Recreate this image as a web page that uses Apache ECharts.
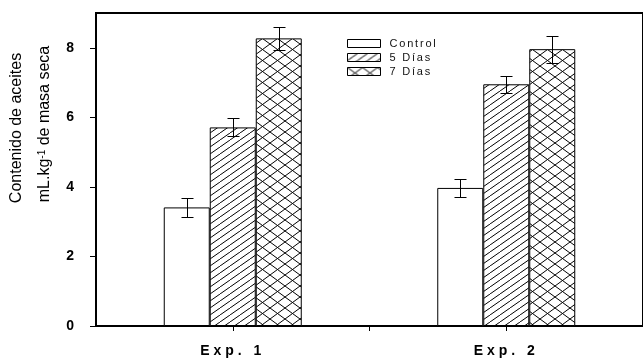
<!DOCTYPE html>
<html>
<head>
<meta charset="utf-8">
<script src="https://cdn.jsdelivr.net/npm/echarts@6/dist/echarts.min.js"></script>
<style>
  html, body { margin: 0; padding: 0; background: #fff; }
  #chart { width: 643px; height: 363px; }
</style>
</head>
<body>
<div id="chart"></div>
<script>
// Oil content per experiment and treatment (mL/kg dry mass), with error bars
const experiments = ['Exp. 1', 'Exp. 2'];
const treatments = ['Control', '5 Días', '7 Días'];
const controlMeans = [3.41, 3.97];
const days5Means = [5.71, 6.95];
const days7Means = [8.27, 7.96];
const controlErrors = [0.28, 0.25];
const days5Errors = [0.26, 0.25];
const days7Errors = [0.34, 0.39];
const yTicks = [0, 2, 4, 6, 8];

const FONT = '"Liberation Sans", Arial, Helvetica, sans-serif';
const BAR_W = 46;
const CAP_W = 12;

// Tracked (letter-spaced) text for the category labels and legend entries
const trackedText = {
  'Exp. 1': '4px', 'Exp. 2': '4px',
  'Control': '1.8px', '5 Días': '1.8px', '7 Días': '1.8px'
};
const baseFillText = CanvasRenderingContext2D.prototype.fillText;
CanvasRenderingContext2D.prototype.fillText = function (text, x, y, maxWidth) {
  const spacing = trackedText[text];
  if (spacing && 'letterSpacing' in this) {
    const prev = this.letterSpacing;
    this.letterSpacing = spacing;
    maxWidth === undefined ? baseFillText.call(this, text, x, y) : baseFillText.call(this, text, x, y, maxWidth);
    this.letterSpacing = prev;
    return;
  }
  maxWidth === undefined ? baseFillText.call(this, text, x, y) : baseFillText.call(this, text, x, y, maxWidth);
};

// Hatch fills
function diagonalHatch() {
  const c = document.createElement('canvas');
  c.width = 10; c.height = 7;
  const g = c.getContext('2d');
  g.fillStyle = '#fff'; g.fillRect(0, 0, 10, 7);
  g.strokeStyle = '#000'; g.lineWidth = 1;
  g.beginPath();
  g.moveTo(-10, 7); g.lineTo(0, 0);
  g.moveTo(0, 7); g.lineTo(10, 0);
  g.moveTo(10, 7); g.lineTo(20, 0);
  g.stroke();
  return { image: c, repeat: 'repeat' };
}
function crossHatch() {
  const w = 15, h = 11;
  const c = document.createElement('canvas');
  c.width = w; c.height = h;
  const g = c.getContext('2d');
  g.fillStyle = '#fff'; g.fillRect(0, 0, w, h);
  g.strokeStyle = '#000'; g.lineWidth = 1;
  g.beginPath();
  g.moveTo(0, 0); g.lineTo(w, h);
  g.moveTo(0, h); g.lineTo(w, 0);
  g.stroke();
  return { image: c, repeat: 'repeat' };
}

const fills = ['#ffffff', diagonalHatch(), crossHatch()];
const means = [controlMeans, days5Means, days7Means];
const errors = [controlErrors, days5Errors, days7Errors];

function errorBarRenderer(k) {
  return function (params, api) {
    const cat = api.value(0), mean = api.value(1), err = api.value(2);
    const top = api.coord([cat, mean + err]);
    const bot = api.coord([cat, mean - err]);
    const x = Math.round(top[0] + (k - 1) * BAR_W) + 0.5;
    const y1 = Math.round(top[1]) + 0.5, y2 = Math.round(bot[1]) + 0.5;
    const style = { stroke: '#000', lineWidth: 1 };
    return {
      type: 'group',
      children: [
        { type: 'line', shape: { x1: x, y1: y1, x2: x, y2: y2 }, style: style },
        { type: 'line', shape: { x1: x - CAP_W / 2, y1: y1, x2: x + CAP_W / 2, y2: y1 }, style: style },
        { type: 'line', shape: { x1: x - CAP_W / 2, y1: y2, x2: x + CAP_W / 2, y2: y2 }, style: style }
      ]
    };
  };
}

const barSeries = treatments.map((name, k) => ({
  name: name,
  type: 'bar',
  xAxisIndex: 0,
  barWidth: BAR_W,
  barGap: '0%',
  data: means[k],
  itemStyle: { color: fills[k], borderColor: '#000', borderWidth: 1 },
  emphasis: { disabled: true },
  z: 2
}));

const errorSeries = treatments.map((name, k) => ({
  type: 'custom',
  xAxisIndex: 0,
  renderItem: errorBarRenderer(k),
  data: experiments.map((e, i) => [i, means[k][i], errors[k][i]]),
  z: 5,
  silent: true
}));

const chart = echarts.init(document.getElementById('chart'), null, { renderer: 'canvas' });
chart.setOption({
  animation: false,
  backgroundColor: '#fff',
  grid: {
    left: 96, top: 13, right: -3, bottom: 37,
    show: true, borderColor: '#000', borderWidth: 2, backgroundColor: 'transparent'
  },
  legend: {
    orient: 'vertical',
    left: 347, top: 38,
    padding: 0,
    itemWidth: 33, itemHeight: 8, itemGap: 3,
    icon: 'rect',
    selectedMode: false,
    data: treatments.map((name, k) => ({
      name: name,
      itemStyle: { color: fills[k], borderColor: '#000', borderWidth: 1 }
    })),
    textStyle: { fontFamily: FONT, fontSize: 11, color: '#111', padding: [0, 0, 0, 4] }
  },
  xAxis: [
    {
      type: 'category',
      data: experiments,
      position: 'bottom',
      axisLine: { show: true, lineStyle: { color: '#000', width: 2 } },
      axisTick: { show: true, alignWithLabel: true, length: 5, lineStyle: { color: '#000', width: 1 } },
      axisLabel: { fontFamily: FONT, fontSize: 14, fontWeight: 'bold', color: '#000', margin: 18 },
      splitLine: { show: false }
    },
    {
      // boundary tick between the two experiments
      type: 'value',
      min: 0, max: 2,
      position: 'bottom',
      axisLine: { show: false },
      axisTick: { show: true, length: 5, customValues: [1], lineStyle: { color: '#000', width: 1 } },
      axisLabel: { show: false },
      splitLine: { show: false }
    }
  ],
  yAxis: {
    type: 'value',
    min: 0, max: 9,
    axisLine: { show: true, lineStyle: { color: '#000', width: 2 } },
    axisTick: { show: true, length: 6, customValues: yTicks, lineStyle: { color: '#000', width: 1 } },
    axisLabel: { customValues: yTicks, fontFamily: FONT, fontSize: 14, fontWeight: 'bold', color: '#000', margin: 22 },
    splitLine: { show: false }
  },
  graphic: [
    {
      type: 'text', x: 17, y: 128, rotation: Math.PI / 2,
      style: {
        text: 'Contenido de aceites',
        font: '16px ' + FONT, fill: '#000', align: 'center', verticalAlign: 'middle'
      }
    },
    {
      type: 'text', x: 45, y: 124, rotation: Math.PI / 2,
      style: {
        text: 'mL.kg{sup|-1} de masa seca',
        font: '16px ' + FONT, fill: '#000', align: 'center', verticalAlign: 'middle',
        rich: {
          sup: { fontSize: 10, fontFamily: FONT, fill: '#000', verticalAlign: 'top', padding: [0, 0, 6, 0] }
        }
      }
    }
  ],
  series: barSeries.concat(errorSeries)
});
</script>
</body>
</html>
